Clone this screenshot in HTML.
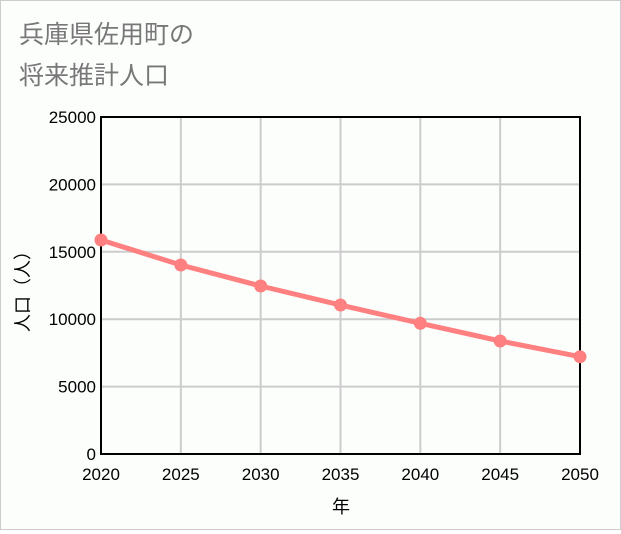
<!DOCTYPE html>
<html><head><meta charset="utf-8"><style>
body{margin:0;background:#fff}
#wrap{position:relative;width:619px;height:528px;border:1px solid #ccc;background:#fcfefc;font-family:"Liberation Sans","Noto Sans CJK JP",sans-serif}
</style></head><body>
<div id="wrap">
<svg id="chart" width="619" height="528">
<text x="18" y="42" font-size="25" fill="#777" font-family="Liberation Sans, Noto Sans CJK JP, sans-serif">兵庫県佐用町の</text>
<text x="18" y="83" font-size="25" fill="#777" font-family="Liberation Sans, Noto Sans CJK JP, sans-serif">将来推計人口</text>
<g id="grid"></g><g id="axes"></g><g id="series"></g>
<text x="340" y="512" font-size="18" text-anchor="middle" fill="#000" font-family="Liberation Sans, Noto Sans CJK JP, sans-serif">年</text>
<text transform="translate(28,286) rotate(-90)" font-size="18" text-anchor="middle" fill="#000" font-family="Liberation Sans, Noto Sans CJK JP, sans-serif">人口（人）</text>
</svg>
</div>
<script>
const years=[2020,2025,2030,2035,2040,2045,2050];
const population=[15875,14020,12463,11053,9696,8383,7218];
const yTicks=[0,5000,10000,15000,20000,25000];
const L=100,R=579,T=116,B=453;
const xs=v=>L+(v-2020)/30*(R-L);
const ys=v=>B-v/25000*(B-T);
const NS="http://www.w3.org/2000/svg";
function mk(t,a,p){const e=document.createElementNS(NS,t);for(const k in a)e.setAttribute(k,a[k]);p.appendChild(e);return e;}
const g=document.getElementById('grid'),ax=document.getElementById('axes'),s=document.getElementById('series');
yTicks.forEach(v=>{
 const l=mk('line',{x1:L,x2:R,y1:ys(v),y2:ys(v),stroke:'#ccc','stroke-width':2},g);
 
 
 const t=mk('text',{x:L-5,y:ys(v)+6,'text-anchor':'end','font-size':17,fill:'#000'},ax);
 t.textContent=v;
 
 
});
years.forEach(v=>{
 const l=mk('line',{x1:xs(v),x2:xs(v),y1:T,y2:B,stroke:'#ccc','stroke-width':2},g);
 
 
 const t=mk('text',{x:xs(v),y:B+26,'text-anchor':'middle','font-size':17,fill:'#000'},ax);
 t.textContent=v;
 
 
});
const fr=mk('rect',{x:L,y:T,width:R-L,height:B-T,fill:'none',stroke:'#000','stroke-width':2},ax);


const pl=mk('polyline',{points:years.map((y,i)=>xs(y)+','+ys(population[i])).join(' '),fill:'none',stroke:'#ff8080','stroke-width':5},s);


years.forEach((y,i)=>{
 const c=mk('circle',{cx:xs(y),cy:ys(population[i]),r:6.5,fill:'#ff8080'},s);
 
 
});
</script>
</body></html>
